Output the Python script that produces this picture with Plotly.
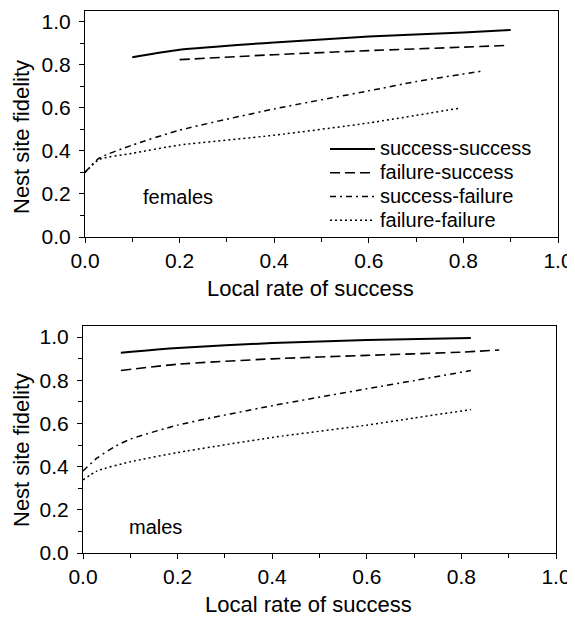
import plotly.graph_objects as go

# ---- data ----
series_names = ["success-success", "failure-success", "success-failure", "failure-failure"]

# females (top panel)
f_ss_x = [0.10, 0.20, 0.40, 0.60, 0.80, 0.90]
f_ss_y = [0.835, 0.870, 0.904, 0.931, 0.950, 0.962]
f_fs_x = [0.20, 0.40, 0.60, 0.80, 0.89]
f_fs_y = [0.824, 0.847, 0.866, 0.882, 0.890]
f_sf_x = [0.00, 0.03, 0.10, 0.20, 0.40, 0.60, 0.70, 0.84]
f_sf_y = [0.300, 0.366, 0.427, 0.496, 0.595, 0.679, 0.722, 0.771]
f_ff_x = [0.00, 0.03, 0.10, 0.20, 0.40, 0.60, 0.79]
f_ff_y = [0.300, 0.360, 0.389, 0.427, 0.473, 0.530, 0.598]

# males (bottom panel)
m_ss_x = [0.08, 0.20, 0.40, 0.60, 0.82]
m_ss_y = [0.927, 0.949, 0.972, 0.986, 0.995]
m_fs_x = [0.08, 0.20, 0.40, 0.60, 0.80, 0.88]
m_fs_y = [0.845, 0.874, 0.899, 0.915, 0.930, 0.940]
m_sf_x = [0.00, 0.03, 0.07, 0.10, 0.20, 0.40, 0.60, 0.70, 0.82]
m_sf_y = [0.380, 0.440, 0.496, 0.527, 0.592, 0.682, 0.760, 0.798, 0.845]
m_ff_x = [0.00, 0.03, 0.10, 0.20, 0.40, 0.60, 0.70, 0.82]
m_ff_y = [0.338, 0.380, 0.422, 0.465, 0.535, 0.592, 0.625, 0.664]

tick_vals = [0.0, 0.2, 0.4, 0.6, 0.8, 1.0]
tick_text = ["0.0", "0.2", "0.4", "0.6", "0.8", "1.0"]

x_title = "Local rate of success"
y_title = "Nest site fidelity"
panel_labels = ["females", "males"]

# ---- styles ----
FONT = "Liberation Sans, Arial, sans-serif"
styles = [
    dict(color="black", width=2.0, dash="solid"),
    dict(color="black", width=1.6, dash="10px,5px"),
    dict(color="black", width=1.5, dash="6px,4px,2px,4px"),
    dict(color="black", width=1.5, dash="2px,3px"),
]

fig = go.Figure()

top = [(f_ss_x, f_ss_y), (f_fs_x, f_fs_y), (f_sf_x, f_sf_y), (f_ff_x, f_ff_y)]
bot = [(m_ss_x, m_ss_y), (m_fs_x, m_fs_y), (m_sf_x, m_sf_y), (m_ff_x, m_ff_y)]

for i, (xs, ys) in enumerate(top):
    fig.add_trace(go.Scatter(x=xs, y=ys, mode="lines",
                             name='<span style="font-size:20px">' + series_names[i] + "</span>",
                             line=dict(shape="spline", smoothing=0.6, **styles[i]),
                             xaxis="x", yaxis="y", showlegend=True))
for i, (xs, ys) in enumerate(bot):
    fig.add_trace(go.Scatter(x=xs, y=ys, mode="lines", name=series_names[i],
                             line=dict(shape="spline", smoothing=0.6, **styles[i]),
                             xaxis="x2", yaxis="y2", showlegend=False))

# page body has an 8px default margin: figure is sized to the visible area
W, H = 567, 612

def axis_common():
    return dict(
        showline=True, linecolor="black", linewidth=1, mirror=True,
        ticks="outside", ticklen=5, tickwidth=1, tickcolor="black",
        tickvals=tick_vals, ticktext=tick_text,
        tickfont=dict(family=FONT, size=21, color="black"),
        ticklabeloverflow="allow",
        minor=dict(ticks="outside", ticklen=4, tickwidth=1, tickcolor="black", dtick=0.1),
        showgrid=False, zeroline=False, fixedrange=True, automargin=False,
    )

xa = axis_common(); xa.update(domain=[77 / W, 550 / W], range=[0, 1], anchor="y")
ya = axis_common(); ya.update(domain=[1 - 229 / H, 1 - 3 / H], range=[0, 1.05], anchor="x",
                              ticklabelstandoff=4)
xa2 = axis_common(); xa2.update(domain=[75 / W, 548 / W], range=[0, 1], anchor="y2")
ya2 = axis_common(); ya2.update(domain=[1 - 545 / H, 1 - 318 / H], range=[0, 1.051], anchor="x2",
                                ticklabelstandoff=4)

def ptext(text, px, py, angle=0):
    return dict(text=text, xref="paper", yref="paper", x=px / W, y=1 - py / H,
                xanchor="center", yanchor="middle", textangle=angle, showarrow=False,
                font=dict(family=FONT, size=22, color="black"))

annotations = [
    ptext(x_title, 302, 281),
    ptext(x_title, 300, 596),
    ptext(y_title, 13, 129, -90),
    ptext(y_title, 13, 442, -90),
    dict(text=panel_labels[0], xref="x", yref="y", x=0.197, y=0.187,
         xanchor="center", yanchor="middle", showarrow=False,
         font=dict(family=FONT, size=20, color="black")),
    dict(text=panel_labels[1], xref="x2", yref="y2", x=0.154, y=0.12,
         xanchor="center", yanchor="middle", showarrow=False,
         font=dict(family=FONT, size=20, color="black")),
]

fig.update_layout(
    width=W, height=H,
    margin=dict(l=0, r=0, t=0, b=0, pad=0, autoexpand=False),
    paper_bgcolor="white", plot_bgcolor="white",
    xaxis=xa, yaxis=ya, xaxis2=xa2, yaxis2=ya2,
    annotations=annotations,
    legend=dict(x=317 / W, y=1 - 124 / H, xanchor="left", yanchor="top",
                font=dict(family=FONT, size=16, color="black"),
                bgcolor="rgba(0,0,0,0)", tracegroupgap=0, itemwidth=45),
    showlegend=True,
)

fig.write_html("out.html")
